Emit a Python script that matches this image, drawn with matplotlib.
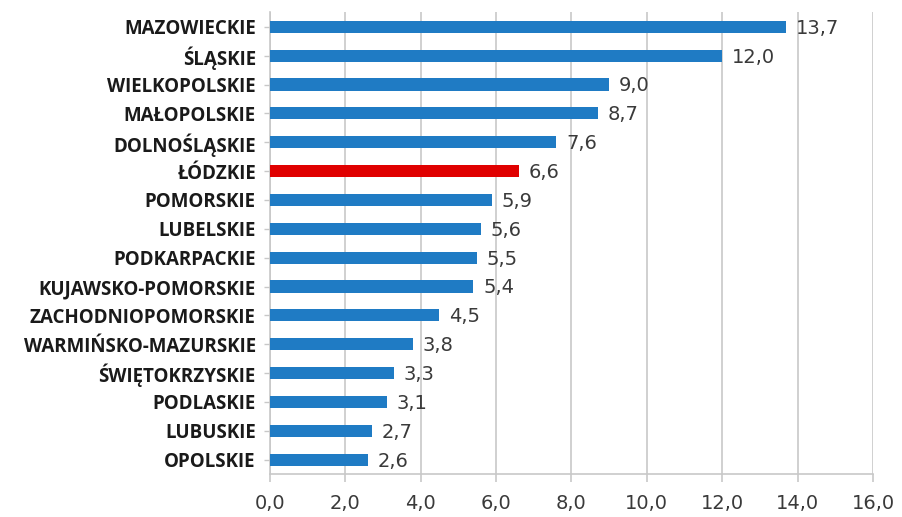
import matplotlib.pyplot as plt
from matplotlib.ticker import FuncFormatter

regions = ["MAZOWIECKIE", "ŚLĄSKIE", "WIELKOPOLSKIE", "MAŁOPOLSKIE", "DOLNOŚLĄSKIE",
           "ŁÓDZKIE", "POMORSKIE", "LUBELSKIE", "PODKARPACKIE", "KUJAWSKO-POMORSKIE",
           "ZACHODNIOPOMORSKIE", "WARMIŃSKO-MAZURSKIE", "ŚWIĘTOKRZYSKIE", "PODLASKIE",
           "LUBUSKIE", "OPOLSKIE"]
values = [13.7, 12.0, 9.0, 8.7, 7.6, 6.6, 5.9, 5.6, 5.5, 5.4, 4.5, 3.8, 3.3, 3.1, 2.7, 2.6]
highlight = "ŁÓDZKIE"

blue = "#1f7bc4"
red = "#e00000"
grid_col = "#c8c8c8"

plt.rcParams['font.family'] = ['DejaVu Sans']

fig = plt.figure(figsize=(9.02, 5.17), dpi=100)
ax = fig.add_axes([0.299, 0.083, 0.669, 0.893])

# bottom to top so the largest sits on top
names = regions[::-1]
vals = values[::-1]
colors = [red if n == highlight else blue for n in names]
ypos = list(range(len(names)))
ax.barh(ypos, vals, height=0.42, color=colors, zorder=3)

for y, v in zip(ypos, vals):
    ax.annotate(f"{v:.1f}".replace(".", ","), (v, y), xytext=(7, -1),
                textcoords="offset points", va="center", ha="left",
                fontsize=14, color="#3a3a3a")

ax.set_xlim(0, 16)
ax.set_ylim(-0.5, len(names) - 0.5)
ax.set_xticks(range(0, 17, 2))
ax.xaxis.set_major_formatter(FuncFormatter(lambda x, p: f"{x:.1f}".replace(".", ",")))
ax.set_yticks(ypos)
ax.set_yticklabels(names, fontweight="bold", fontsize=13.5, color="#1a1a1a",
                   family=["Open Sans", "DejaVu Sans"])

ax.grid(axis="x", color=grid_col, linewidth=1.2, zorder=0)
for s in ["top", "right"]:
    ax.spines[s].set_visible(False)
for s in ["left", "bottom"]:
    ax.spines[s].set_color(grid_col)
    ax.spines[s].set_linewidth(1.2)
ax.tick_params(axis="x", colors=grid_col, length=6, width=1.2, labelsize=14,
               labelcolor="#3a3a3a", pad=8)
ax.tick_params(axis="y", colors=grid_col, length=4, width=1.0, labelcolor="#1a1a1a", pad=6)

plt.savefig("out.png", dpi=100)
